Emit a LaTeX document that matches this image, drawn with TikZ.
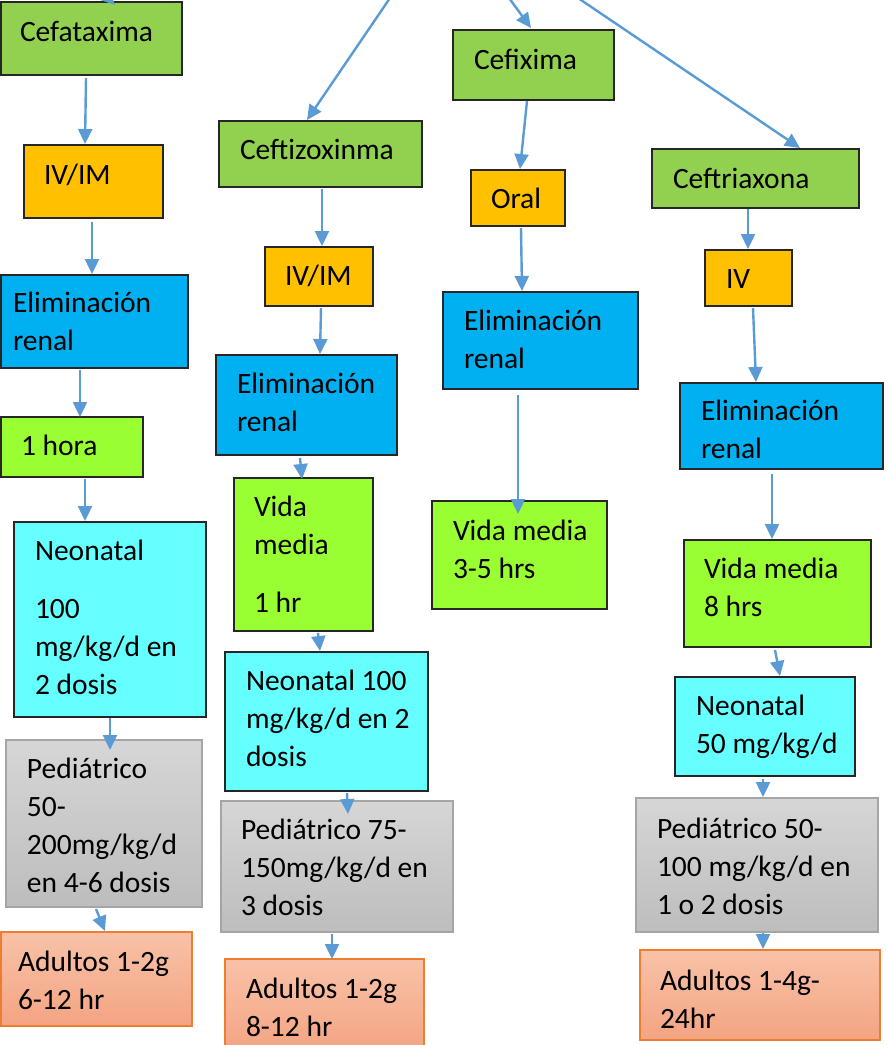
\documentclass[tikz,border=0pt]{standalone}
\usepackage{fontspec}
\setmainfont{Carlito}
\usetikzlibrary{arrows.meta}

\definecolor{drugc}{HTML}{92D050}
\definecolor{routec}{HTML}{FFC000}
\definecolor{elimc}{HTML}{00B0F0}
\definecolor{halfc}{HTML}{99FF33}
\definecolor{neoc}{HTML}{66FFFF}
\definecolor{pedtop}{HTML}{D6D6D6}
\definecolor{pedbot}{HTML}{BDBDBD}
\definecolor{pedline}{HTML}{A5A5A5}
\definecolor{adutop}{HTML}{F8C2A8}
\definecolor{adubot}{HTML}{F4A482}
\definecolor{aduline}{HTML}{ED7D31}
\definecolor{arrowc}{HTML}{5B9BD5}

\tikzset{
  boxbase/.style={rectangle, inner sep=0pt, outer sep=0pt, line width=1.5pt},
  drug/.style={boxbase, draw=black!85, fill=drugc},
  route/.style={boxbase, draw=black!85, fill=routec},
  elim/.style={boxbase, draw=black!85, fill=elimc},
  half/.style={boxbase, draw=black!85, fill=halfc},
  neo/.style={boxbase, draw=black!85, fill=neoc},
  ped/.style={boxbase, draw=pedline, top color=pedtop, bottom color=pedbot},
  adu/.style={boxbase, draw=aduline, top color=adutop, bottom color=adubot},
  txt/.style={inner sep=0pt, outer sep=0pt, anchor=base west, text width=300pt,
    align=left, font=\fontsize{29.5}{38}\selectfont},
  arr/.style={draw=arrowc, line width=2.4pt, -{Triangle[length=15pt,width=14pt]}},
}

% \flowbox{name}{style}{x1}{y1}{x2}{y2}{text x}{first baseline}{text}
\newcommand\flowbox[9]{%
  \node[#2, minimum width={#5-#3}, minimum height={#6-#4}] (#1)
    at ({(#3+#5)/2},{(#4+#6)/2}) {};
  \node[txt] (#1-t) at (#7,#8) {\spaceskip=0pt\relax #9};
}

\begin{document}
\begin{tikzpicture}[x=1pt, y=-1pt]
\useasboundingbox (0,0) rectangle (888,1045);
\clip (0,0) rectangle (888,1045);

% Cefotaxime column
\flowbox{cefa}{drug}{1}{2}{182}{75}{20}{41}{Cefataxima}
\flowbox{iva}{route}{24}{145}{163}{218}{44}{184}{IV/IM}
\flowbox{ela}{elim}{1}{275}{188}{368}{13}{312}{Eliminación\\renal}
\flowbox{hora}{half}{1}{417}{143}{477}{21}{455}{1 hora}
\flowbox{neoa}{neo}{14}{522}{206}{717}{35}{560}{Neonatal\\[20pt]100\\mg/kg/d en\\2 dosis}
\flowbox{peda}{ped}{6}{740}{202}{907}{27}{778}{Pediátrico\\50-\\200mg/kg/d\\en 4-6 dosis}
\flowbox{adua}{adu}{1}{932}{192}{1026}{18}{971}{Adultos 1-2g\\6-12 hr}

% Ceftizoxime column
\flowbox{tizo}{drug}{219}{121}{422}{187}{240}{159}{Ceftizoxinma}
\flowbox{ivb}{route}{265}{247}{373}{306}{285}{285}{IV/IM}
\flowbox{elb}{elim}{216}{355}{397}{455}{237}{393}{Eliminación\\renal}
\flowbox{vmb}{half}{234}{478}{373}{631}{254}{516}{Vida\\media\\[20pt]1 hr}
\flowbox{neob}{neo}{225}{652}{428}{791}{246}{690}{Neonatal 100\\mg/kg/d en 2\\dosis}
\flowbox{pedb}{ped}{221}{801}{453}{932}{241}{839}{Pediátrico 75-\\150mg/kg/d en\\3 dosis}
\flowbox{adub}{adu}{225}{959}{424}{1052}{246}{998}{Adultos 1-2g\\8-12 hr}

% Cefixime column
\flowbox{fix}{drug}{453}{30}{614}{100}{474}{69}{Cefixima}
\flowbox{oral}{route}{471}{170}{565}{226}{491}{208}{Oral}
\flowbox{elc}{elim}{443}{292}{638}{389}{464}{330}{Eliminación\\renal}
\flowbox{vmc}{half}{432}{501}{607}{609}{453}{540}{Vida media\\3-5 hrs}

% Ceftriaxone column
\flowbox{tri}{drug}{652}{149}{859}{208}{673}{188}{Ceftriaxona}
\flowbox{ivd}{route}{705}{250}{792}{306}{726}{288}{IV}
\flowbox{eld}{elim}{680}{383}{883}{469}{701}{420}{Eliminación\\renal}
\flowbox{vmd}{half}{684}{540}{871}{647}{704}{578}{Vida media\\8 hrs}
\flowbox{neod}{neo}{675}{677}{855}{776}{696}{715}{Neonatal\\50 mg/kg/d}
\flowbox{pedd}{ped}{636}{798}{878}{932}{657}{838}{Pediátrico 50-\\100 mg/kg/d en\\1 o 2 dosis}
\flowbox{adud}{adu}{640}{950}{880}{1040}{660}{990}{Adultos 1-4g-\\24hr}

% connectors entering from above
\coordinate (inA) at (100,-10);
\coordinate (inB) at (390,-2);
\coordinate (inC) at (509,-2);
\coordinate (inD) at (578,-2);
\draw[arr] (inA) -- ([shift={(23.5,3)}]cefa.north);
\draw[arr] (inB) -- ([shift={(-13.5,-1)}]tizo.north);
\draw[arr] (inC) -- ([shift={(-2.5,-2)}]fix.north);
\draw[arr] (inD) -- ([shift={(44.5,-1)}]tri.north);

% first column
\draw[arr] ([shift={(-5.5,3)}]cefa.south) -- ([shift={(-8.5,-1)}]iva.north);
\draw[arr] ([shift={(-1.5,4)}]iva.south) -- ([shift={(-2.5,-1)}]ela.north);
\draw[arr] ([shift={(-14.5,2)}]ela.south) -- ([shift={(8,0)}]hora.north);
\draw[arr] ([shift={(13,2)}]hora.south) -- ([shift={(-25,-1)}]neoa.north);
\draw[arr] ([shift={(0,1)}]neoa.south) -- ([shift={(6,10)}]peda.north);
\draw[arr] ([shift={(-8,2)}]peda.south) -- ([shift={(8.5,-1)}]adua.north);

% second column
\draw[arr] ([shift={(1.5,2)}]tizo.south) -- ([shift={(3,-1)}]ivb.north);
\draw[arr] ([shift={(2,2)}]ivb.south) -- ([shift={(13.5,-1)}]elb.north);
\draw[arr] ([shift={(-6.5,3)}]elb.south) -- ([shift={(-1.5,1)}]vmb.north);
\draw[arr] ([shift={(14.5,2)}]vmb.south) -- ([shift={(-6.5,-1)}]neob.north);
\draw[arr] ([shift={(20.5,2)}]neob.south) -- ([shift={(11,13)}]pedb.north);
\draw[arr] ([shift={(-5,2)}]pedb.south) -- ([shift={(7.5,0)}]adub.north);

% third column
\draw[arr] ([shift={(-6.5,1)}]fix.south) -- ([shift={(2,-1)}]oral.north);
\draw[arr] ([shift={(3,2)}]oral.south) -- ([shift={(-18.5,-1)}]elc.north);
\draw[arr] ([shift={(-22.5,6)}]elc.south) -- ([shift={(-1.5,13)}]vmc.north);

% fourth column
\draw[arr] ([shift={(-7.5,1)}]tri.south) -- ([shift={(-0.5,-1)}]ivd.north);
\draw[arr] ([shift={(4.5,2)}]ivd.south) -- ([shift={(-25.5,-1)}]eld.north);
\draw[arr] ([shift={(-9.5,5)}]eld.south) -- ([shift={(-5.5,-1)}]vmd.north);
\draw[arr] ([shift={(-2.5,3)}]vmd.south) -- ([shift={(15,-1)}]neod.north);
\draw[arr] ([shift={(-2,3)}]neod.south) -- ([shift={(6,-1)}]pedd.north);
\draw[arr] ([shift={(6,1)}]pedd.south) -- ([shift={(3,-1)}]adud.north);
\end{tikzpicture}
\end{document}
